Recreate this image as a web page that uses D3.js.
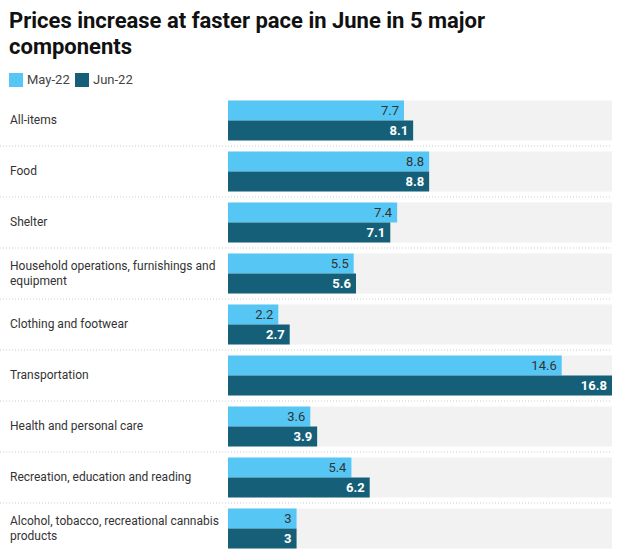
<!DOCTYPE html>
<html>
<head>
<meta charset="utf-8">
<script src="https://cdnjs.cloudflare.com/ajax/libs/d3/7.8.5/d3.min.js"></script>
<style>
  body { margin: 0; background: #fff; font-family: Roboto, "Noto Sans", sans-serif; }
  svg text { font-family: Roboto, "Noto Sans", sans-serif; }
</style>
</head>
<body>
<svg width="638" height="559"></svg>
<script>
var categories = [
  ["All-items"],
  ["Food"],
  ["Shelter"],
  ["Household operations, furnishings and", "equipment"],
  ["Clothing and footwear"],
  ["Transportation"],
  ["Health and personal care"],
  ["Recreation, education and reading"],
  ["Alcohol, tobacco, recreational cannabis", "products"]
];
var may22 = [7.7, 8.8, 7.4, 5.5, 2.2, 14.6, 3.6, 5.4, 3];
var jun22 = [8.1, 8.8, 7.1, 5.6, 2.7, 16.8, 3.9, 6.2, 3];
var seriesNames = ["May-22", "Jun-22"];
var colors = ["#56c7f5", "#156078"];

var svg = d3.select("svg");

svg.append("text").attr("x", 9).attr("y", 28)
  .attr("font-size", 22).attr("font-weight", "bold").attr("fill", "#111")
  .text("Prices increase at faster pace in June in 5 major");
svg.append("text").attr("x", 9).attr("y", 54)
  .attr("font-size", 22).attr("font-weight", "bold").attr("fill", "#111")
  .text("components");

// legend
var leg = svg.append("g");
[9, 75].forEach(function(lx, i) {
  leg.append("rect").attr("x", lx).attr("y", 73).attr("width", 14).attr("height", 14)
    .attr("fill", colors[i]);
  leg.append("text").attr("x", lx + 18).attr("y", 84)
    .attr("font-size", 13).attr("fill", "#444")
    .text(seriesNames[i]);
});

var x = d3.scaleLinear().domain([0, 16.8]).range([228, 612]);
var y = d3.scaleBand().domain(d3.range(categories.length)).range([95, 554]).paddingInner(0.2157).paddingOuter(0.1078);
var bh = y.bandwidth() / 2;

var rows = svg.selectAll(".row").data(categories).enter().append("g")
  .attr("class", "row")
  .attr("transform", function(d, i) { return "translate(0," + y(i) + ")"; });

rows.append("rect").attr("x", x(0)).attr("y", 0)
  .attr("width", x(16.8) - x(0)).attr("height", y.bandwidth()).attr("fill", "#f2f2f2");

rows.append("rect").attr("x", x(0)).attr("y", 0)
  .attr("width", function(d, i) { return x(may22[i]) - x(0); })
  .attr("height", bh).attr("fill", colors[0]);
rows.append("rect").attr("x", x(0)).attr("y", bh)
  .attr("width", function(d, i) { return x(jun22[i]) - x(0); })
  .attr("height", bh).attr("fill", colors[1]);

rows.append("text").attr("x", function(d, i) { return x(may22[i]) - 5; })
  .attr("y", bh / 2 + 4.5).attr("text-anchor", "end")
  .attr("font-size", 13).attr("fill", "#333")
  .text(function(d, i) { return may22[i]; });
rows.append("text").attr("x", function(d, i) { return x(jun22[i]) - 5; })
  .attr("y", bh + bh / 2 + 4.5).attr("text-anchor", "end")
  .attr("font-size", 13).attr("font-weight", "bold").attr("fill", "#fff")
  .text(function(d, i) { return jun22[i]; });

rows.each(function(d) {
  var t = d3.select(this).append("text").attr("x", 10)
    .attr("font-size", 12).attr("fill", "#333");
  var c = y.bandwidth() / 2;
  var start = c + 4 - (d.length - 1) * 7.5;
  d.forEach(function(line, k) {
    t.append("tspan").attr("x", 10).attr("y", start + k * 15).text(line);
  });
});

// dotted separators
var step = y.step();
svg.selectAll(".sep").data(d3.range(categories.length - 1)).enter().append("line")
  .attr("x1", 0).attr("x2", 612)
  .attr("y1", function(i) { return y(i) + y.bandwidth() + (step - y.bandwidth()) / 2; })
  .attr("y2", function(i) { return y(i) + y.bandwidth() + (step - y.bandwidth()) / 2; })
  .attr("stroke", "#ccc").attr("stroke-width", 1).attr("stroke-dasharray", "1,2");
</script>
</body>
</html>
